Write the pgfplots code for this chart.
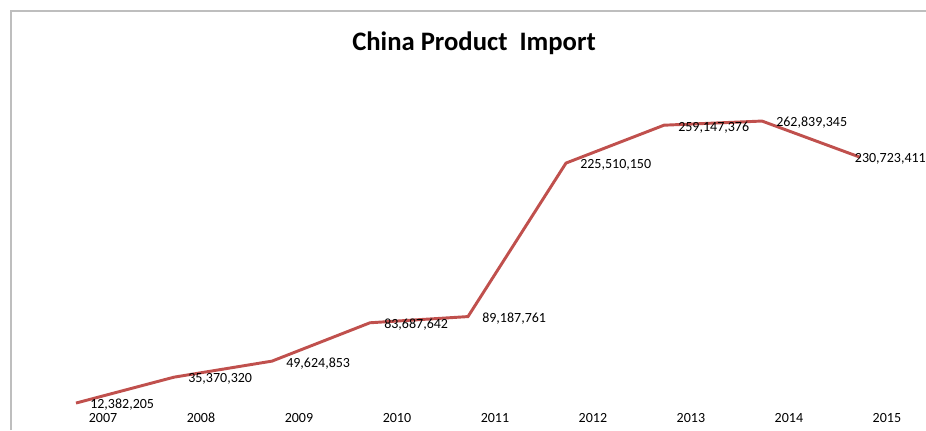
\documentclass[border=0pt]{standalone}
\usepackage{pgfplots}
\pgfplotsset{compat=1.18}
\usepackage{pgfplotstable}
\usepackage{fontspec}
\setmainfont{Carlito}
\definecolor{exred}{RGB}{192,80,77}
\definecolor{frame}{RGB}{190,190,190}
\pgfplotstableread{
x y label
2007 12382205 12,382,205
2008 35370320 35,370,320
2009 49624853 49,624,853
2010 83687642 83,687,642
2011 89187761 89,187,761
2012 225510150 225,510,150
2013 259147376 259,147,376
2014 262839345 262,839,345
}\labA
\pgfplotstableread{
x y label
2015 230723411 230,723,411
}\labB
\pgfplotstableread{
x y
2007 12382205
2008 35370320
2009 49624853
2010 83687642
2011 89187761
2012 225510150
2013 259147376
2014 262839345
2015 230723411
}\data
\begin{document}
\begin{tikzpicture}
\path[use as bounding box] (0,0) rectangle (694.5pt,322.5pt);
\draw[frame, line width=1.5pt] (8pt,0) -- (8pt,314.6pt) -- (694.5pt,314.6pt);
\node[font=\fontsize{20}{22}\selectfont\bfseries] at (355.5pt,290.25pt) {China Product\ \ Import};
\begin{axis}[
  at={(57pt,9.75pt)}, anchor=south west,
  scale only axis, width=588pt, height=253.35pt,
  xmin=2007, xmax=2015, ymin=0, ymax=300000000,
  axis line style={draw=none},
  ytick=\empty,
  xtick={2007,...,2015},
  xticklabels={2007,2008,2009,2010,2011,2012,2013,2014,2015},
  tick style={draw=none},
  xticklabel style={anchor=center, xshift=20.25pt, yshift=-0.75pt, font=\fontsize{10.5}{12}\selectfont},
  clip=false,
]
\addplot[exred, line width=2.2pt, mark=none] table[x=x,y=y] {\data};
\addplot[draw=none, mark=none, nodes near coords, point meta=explicit symbolic,
  every node near coord/.append style={anchor=west, xshift=10.5pt, yshift=-1.5pt, font=\fontsize{10.5}{13}\selectfont, inner sep=0pt}]
  table[x=x,y=y,meta=label] {\labA};
\addplot[draw=none, mark=none, nodes near coords, point meta=explicit symbolic,
  every node near coord/.append style={anchor=west, xshift=-4pt, yshift=-1.5pt, font=\fontsize{10.5}{13}\selectfont, inner sep=0pt}]
  table[x=x,y=y,meta=label] {\labB};
\end{axis}
\end{tikzpicture}
\end{document}
